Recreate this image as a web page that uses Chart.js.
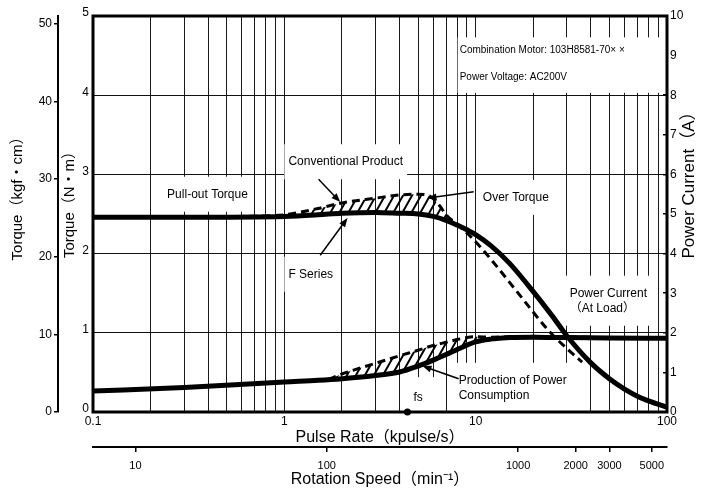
<!DOCTYPE html>
<html>
<head>
<meta charset="utf-8">
<script src="https://cdn.jsdelivr.net/npm/chart.js@4/dist/chart.umd.min.js"></script>
<style>
  html, body { margin: 0; padding: 0; background: #fff; }
</style>
</head>
<body>
<canvas id="chart" width="704" height="492"></canvas>
<script>
// pulse rate grid (kpulse/s) and labelled decades
const pulseGrid = [0.1, 0.2, 0.3, 0.4, 0.5, 0.6, 0.7, 0.8, 0.9,
                   1, 2, 3, 4, 5, 6, 7, 8, 9,
                   10, 20, 30, 40, 50, 60, 70, 80, 90, 100];
const pulseLabels = [0.1, 1, 10, 100];
const rpmTicks = [10, 100, 1000, 2000, 3000, 5000];
const rpmPerKpps = 60;
const kgfTicks = [0, 10, 20, 30, 40, 50];
const kgfPerNm = 10.197;

// F series pull-out torque (N·m)
const torqueF_x = [0.1, 0.3, 1, 1.5, 2, 3, 4, 5, 6, 7, 8, 9, 10, 12, 15, 20, 25, 30, 40, 50, 60, 70, 80, 100];
const torqueF_y = [2.46, 2.46, 2.47, 2.49, 2.51, 2.52, 2.51, 2.50, 2.47, 2.42, 2.36, 2.30, 2.24, 2.10, 1.88, 1.52, 1.22, 0.96, 0.62, 0.42, 0.29, 0.20, 0.14, 0.06];

// conventional product torque (N·m)
const torqueConv_x = [0.3, 0.6, 1, 1.5, 2, 3, 4, 5, 5.8, 6.5, 7, 8, 9, 10, 12, 15, 18, 24, 30, 36];
const torqueConv_y = [2.46, 2.47, 2.49, 2.57, 2.64, 2.70, 2.74, 2.75, 2.72, 2.60, 2.49, 2.37, 2.26, 2.15, 1.93, 1.64, 1.40, 1.03, 0.80, 0.63];

// power current at load (A)
const currentF_x = [0.1, 0.3, 1, 1.5, 2, 3, 4, 5, 6, 7, 8, 10, 12, 15, 20, 30, 50, 100];
const currentF_y = [0.53, 0.62, 0.76, 0.80, 0.84, 0.92, 1.01, 1.16, 1.31, 1.45, 1.58, 1.77, 1.84, 1.88, 1.89, 1.88, 1.87, 1.86];

const currentConv_x = [1.7, 2, 3, 4, 5, 6, 7, 8, 9, 10, 12, 15, 20, 30, 40];
const currentConv_y = [0.82, 0.96, 1.23, 1.42, 1.56, 1.68, 1.76, 1.83, 1.88, 1.90, 1.89, 1.90, 1.91, 1.90, 1.89];

const fsPulse = 4.4;

// callouts, placed in (kpulse/s, N·m)
const notes = [
  { lines: ['Pull-out Torque'], x: 0.244, y: 2.75 },
  { lines: ['Conventional Product'], x: 1.05, y: 3.16 },
  { lines: ['F Series'], x: 1.05, y: 1.74 },
  { lines: ['Over Torque'], x: 10.9, y: 2.71 },
  { lines: ['Power Current', '（At Load）'], x: 31, y: 1.50 },
  { lines: ['Production of Power', 'Consumption'], x: 8.15, y: 0.40 },
  { lines: ['fs'], x: 4.73, y: 0.18, box: [4.05, 6.9, 0, 0.44] },
  { lines: ['Combination Motor: 103H8581-70× ×', 'Power Voltage: AC200V'], x: 8.25, y: 4.57,
    lh: 27, size: 10, box: [8.05, 100, 4.03, 4.73] }
];
const arrows = [
  { from: [1.51, 2.94], to: [1.96, 2.65] },
  { from: [1.54, 1.98], to: [2.14, 2.45] },
  { from: [9.77, 2.78], to: [5.6, 2.70] },
  { from: [8.15, 0.42], to: [5.27, 0.58] }
];

Chart.defaults.font.family = '"Liberation Sans", "Noto Sans CJK JP", sans-serif';
Chart.defaults.color = '#000';

function pts(xs, ys) {
  return xs.map((v, i) => ({ x: v, y: ys[i] }));
}

function makeHatch() {
  const c = document.createElement('canvas');
  c.width = 9; c.height = 16;
  const g = c.getContext('2d');
  g.strokeStyle = '#000';
  g.lineWidth = 2;
  g.beginPath();
  [-9, 0, 9].forEach(function(o) {
    g.moveTo(o - 4.5, 24);
    g.lineTo(o + 13.5, -8);
  });
  g.stroke();
  return g.createPattern(c, 'repeat');
}
const hatch = makeHatch();

const notesPlugin = {
  id: 'notes',
  beforeDatasetsDraw(chart) {
    const { ctx, scales: { x, y } } = chart;
    ctx.save();
    notes.forEach(function(n) {
      const size = n.size || 12;
      const lh = n.lh || 15;
      ctx.font = size + 'px "Liberation Sans", "Noto Sans CJK JP", sans-serif';
      const px = x.getPixelForValue(n.x), py = y.getPixelForValue(n.y);
      ctx.fillStyle = '#fff';
      if (n.box) {
        const l = x.getPixelForValue(n.box[0]), r = x.getPixelForValue(n.box[1]);
        const b = y.getPixelForValue(n.box[2]), t = y.getPixelForValue(n.box[3]);
        ctx.fillRect(l, t, r - l, b - t);
      } else {
        const w = Math.max.apply(null, n.lines.map(l => ctx.measureText(l).width));
        ctx.fillRect(px - 4, py - lh / 2 - 10, w + 8, lh * n.lines.length + 20);
      }
      ctx.fillStyle = '#000';
      ctx.textBaseline = 'middle';
      ctx.textAlign = 'left';
      n.lines.forEach((l, i) => ctx.fillText(l, px, py + i * lh));
    });
    ctx.restore();
  },
  afterDatasetsDraw(chart) {
    const { ctx, chartArea: a, scales: { x, y } } = chart;
    ctx.save();
    ctx.strokeStyle = '#000';
    ctx.fillStyle = '#000';
    ctx.lineWidth = 1.5;
    arrows.forEach(function(ar) {
      const x1 = x.getPixelForValue(ar.from[0]), y1 = y.getPixelForValue(ar.from[1]);
      const x2 = x.getPixelForValue(ar.to[0]), y2 = y.getPixelForValue(ar.to[1]);
      const ang = Math.atan2(y2 - y1, x2 - x1);
      ctx.beginPath();
      ctx.moveTo(x1, y1);
      ctx.lineTo(x2 - 6 * Math.cos(ang), y2 - 6 * Math.sin(ang));
      ctx.stroke();
      ctx.beginPath();
      ctx.moveTo(x2, y2);
      ctx.lineTo(x2 - 9 * Math.cos(ang) + 3.5 * Math.sin(ang), y2 - 9 * Math.sin(ang) - 3.5 * Math.cos(ang));
      ctx.lineTo(x2 - 9 * Math.cos(ang) - 3.5 * Math.sin(ang), y2 - 9 * Math.sin(ang) + 3.5 * Math.cos(ang));
      ctx.closePath();
      ctx.fill();
    });
    // plot frame
    ctx.lineWidth = 3;
    ctx.strokeRect(a.left, a.top, a.right - a.left, a.bottom - a.top);
    ctx.restore();
  },
  afterDraw(chart) {
    // vertical axis titles, all reading bottom to top
    const { ctx } = chart;
    const titles = [
      { text: 'Torque（kgf・cm）', x: 18, y: 195, size: 15 },
      { text: 'Torque（N・m）', x: 70, y: 201, size: 15 },
      { text: 'Power Current（A）', x: 689, y: 181, size: 17 }
    ];
    ctx.save();
    ctx.fillStyle = '#000';
    ctx.textAlign = 'center';
    ctx.textBaseline = 'middle';
    titles.forEach(function(t) {
      ctx.save();
      ctx.translate(t.x, t.y);
      ctx.rotate(-Math.PI / 2);
      ctx.font = t.size + 'px "Liberation Sans", "Noto Sans CJK JP", sans-serif';
      ctx.fillText(t.text, 0, 0);
      ctx.restore();
    });
    ctx.restore();
  }
};

new Chart(document.getElementById('chart'), {
  type: 'line',
  data: {
    datasets: [
      { label: 'F Series', data: pts(torqueF_x, torqueF_y), yAxisID: 'y',
        borderColor: '#000', borderWidth: 5, pointRadius: 0, cubicInterpolationMode: 'monotone' },
      { label: 'Conventional Product', data: pts(torqueConv_x, torqueConv_y), yAxisID: 'y',
        borderColor: '#000', borderWidth: 3, borderDash: [8, 5], pointRadius: 0, cubicInterpolationMode: 'monotone',
        fill: { target: 0, above: hatch, below: 'rgba(0,0,0,0)' } },
      { label: 'Power Current F', data: pts(currentF_x, currentF_y), yAxisID: 'y1',
        borderColor: '#000', borderWidth: 5, pointRadius: 0, cubicInterpolationMode: 'monotone' },
      { label: 'Power Current Conventional', data: pts(currentConv_x, currentConv_y), yAxisID: 'y1',
        borderColor: '#000', borderWidth: 3, borderDash: [8, 5], pointRadius: 0, cubicInterpolationMode: 'monotone',
        fill: { target: 2, above: hatch, below: 'rgba(0,0,0,0)' } },
      { label: 'fs', data: [{ x: fsPulse, y: 0 }], yAxisID: 'y', showLine: false,
        pointRadius: 3.5, pointBackgroundColor: '#000', pointBorderWidth: 0, clip: false }
    ]
  },
  options: {
    responsive: false,
    animation: false,
    layout: { padding: { top: 16, left: 0, right: 0, bottom: 0 } },
    plugins: { legend: { display: false }, tooltip: { enabled: false } },
    scales: {
      x: {
        type: 'logarithmic', position: 'bottom', min: 0.1, max: 100, weight: 0,
        afterBuildTicks: a => { a.ticks = pulseGrid.map(v => ({ value: v })); },
        afterFit: s => { s.height = 35; },
        grid: { color: '#1a1a1a', lineWidth: 1, drawTicks: false },
        border: { display: false },
        ticks: { autoSkip: false, maxRotation: 0, padding: 2, font: { size: 12 },
                 callback: v => pulseLabels.includes(v) ? String(v) : '' },
        title: { display: true, text: 'Pulse Rate（kpulse/s）', font: { size: 16 }, padding: { top: 0, bottom: 0 } }
      },
      xRpm: {
        type: 'logarithmic', position: 'bottom', min: 0.1 * rpmPerKpps, max: 100 * rpmPerKpps, weight: 10,
        afterBuildTicks: a => { a.ticks = rpmTicks.map(v => ({ value: v })); },
        afterFit: s => { s.height = 45; },
        grid: { drawOnChartArea: false, tickLength: 5, color: '#000', lineWidth: 1.5 },
        border: { display: true, color: '#000', width: 2 },
        ticks: { autoSkip: false, maxRotation: 0, padding: 7, font: { size: 11 }, callback: v => String(v) },
        title: { display: true, text: 'Rotation Speed（min⁻¹）', font: { size: 16 }, padding: { top: 0, bottom: 3 } }
      },
      y: {
        position: 'left', min: 0, max: 5, weight: 0,
        afterFit: s => { s.width = 35; },
        grid: { color: '#111', lineWidth: 1, tickLength: -4 },
        border: { display: false },
        ticks: { stepSize: 1, padding: 8, labelOffset: -3, font: { size: 12 } }
      },
      yKgf: {
        position: 'left', min: 0, max: 5 * kgfPerNm, weight: 10,
        afterBuildTicks: a => { a.ticks = kgfTicks.map(v => ({ value: v })); },
        afterFit: s => { s.width = 58; },
        grid: { drawOnChartArea: false, tickLength: 4, color: '#000', lineWidth: 1.5 },
        border: { display: true, color: '#000', width: 2 },
        ticks: { padding: 2, font: { size: 12 } }
      },
      y1: {
        position: 'right', min: 0, max: 10,
        afterFit: s => { s.width = 37; },
        grid: { drawOnChartArea: false, tickLength: -4, color: '#000', lineWidth: 1.5 },
        border: { display: false },
        ticks: { stepSize: 1, padding: 7, font: { size: 12 } }
      }
    }
  },
  plugins: [notesPlugin]
});
</script>
</body>
</html>
